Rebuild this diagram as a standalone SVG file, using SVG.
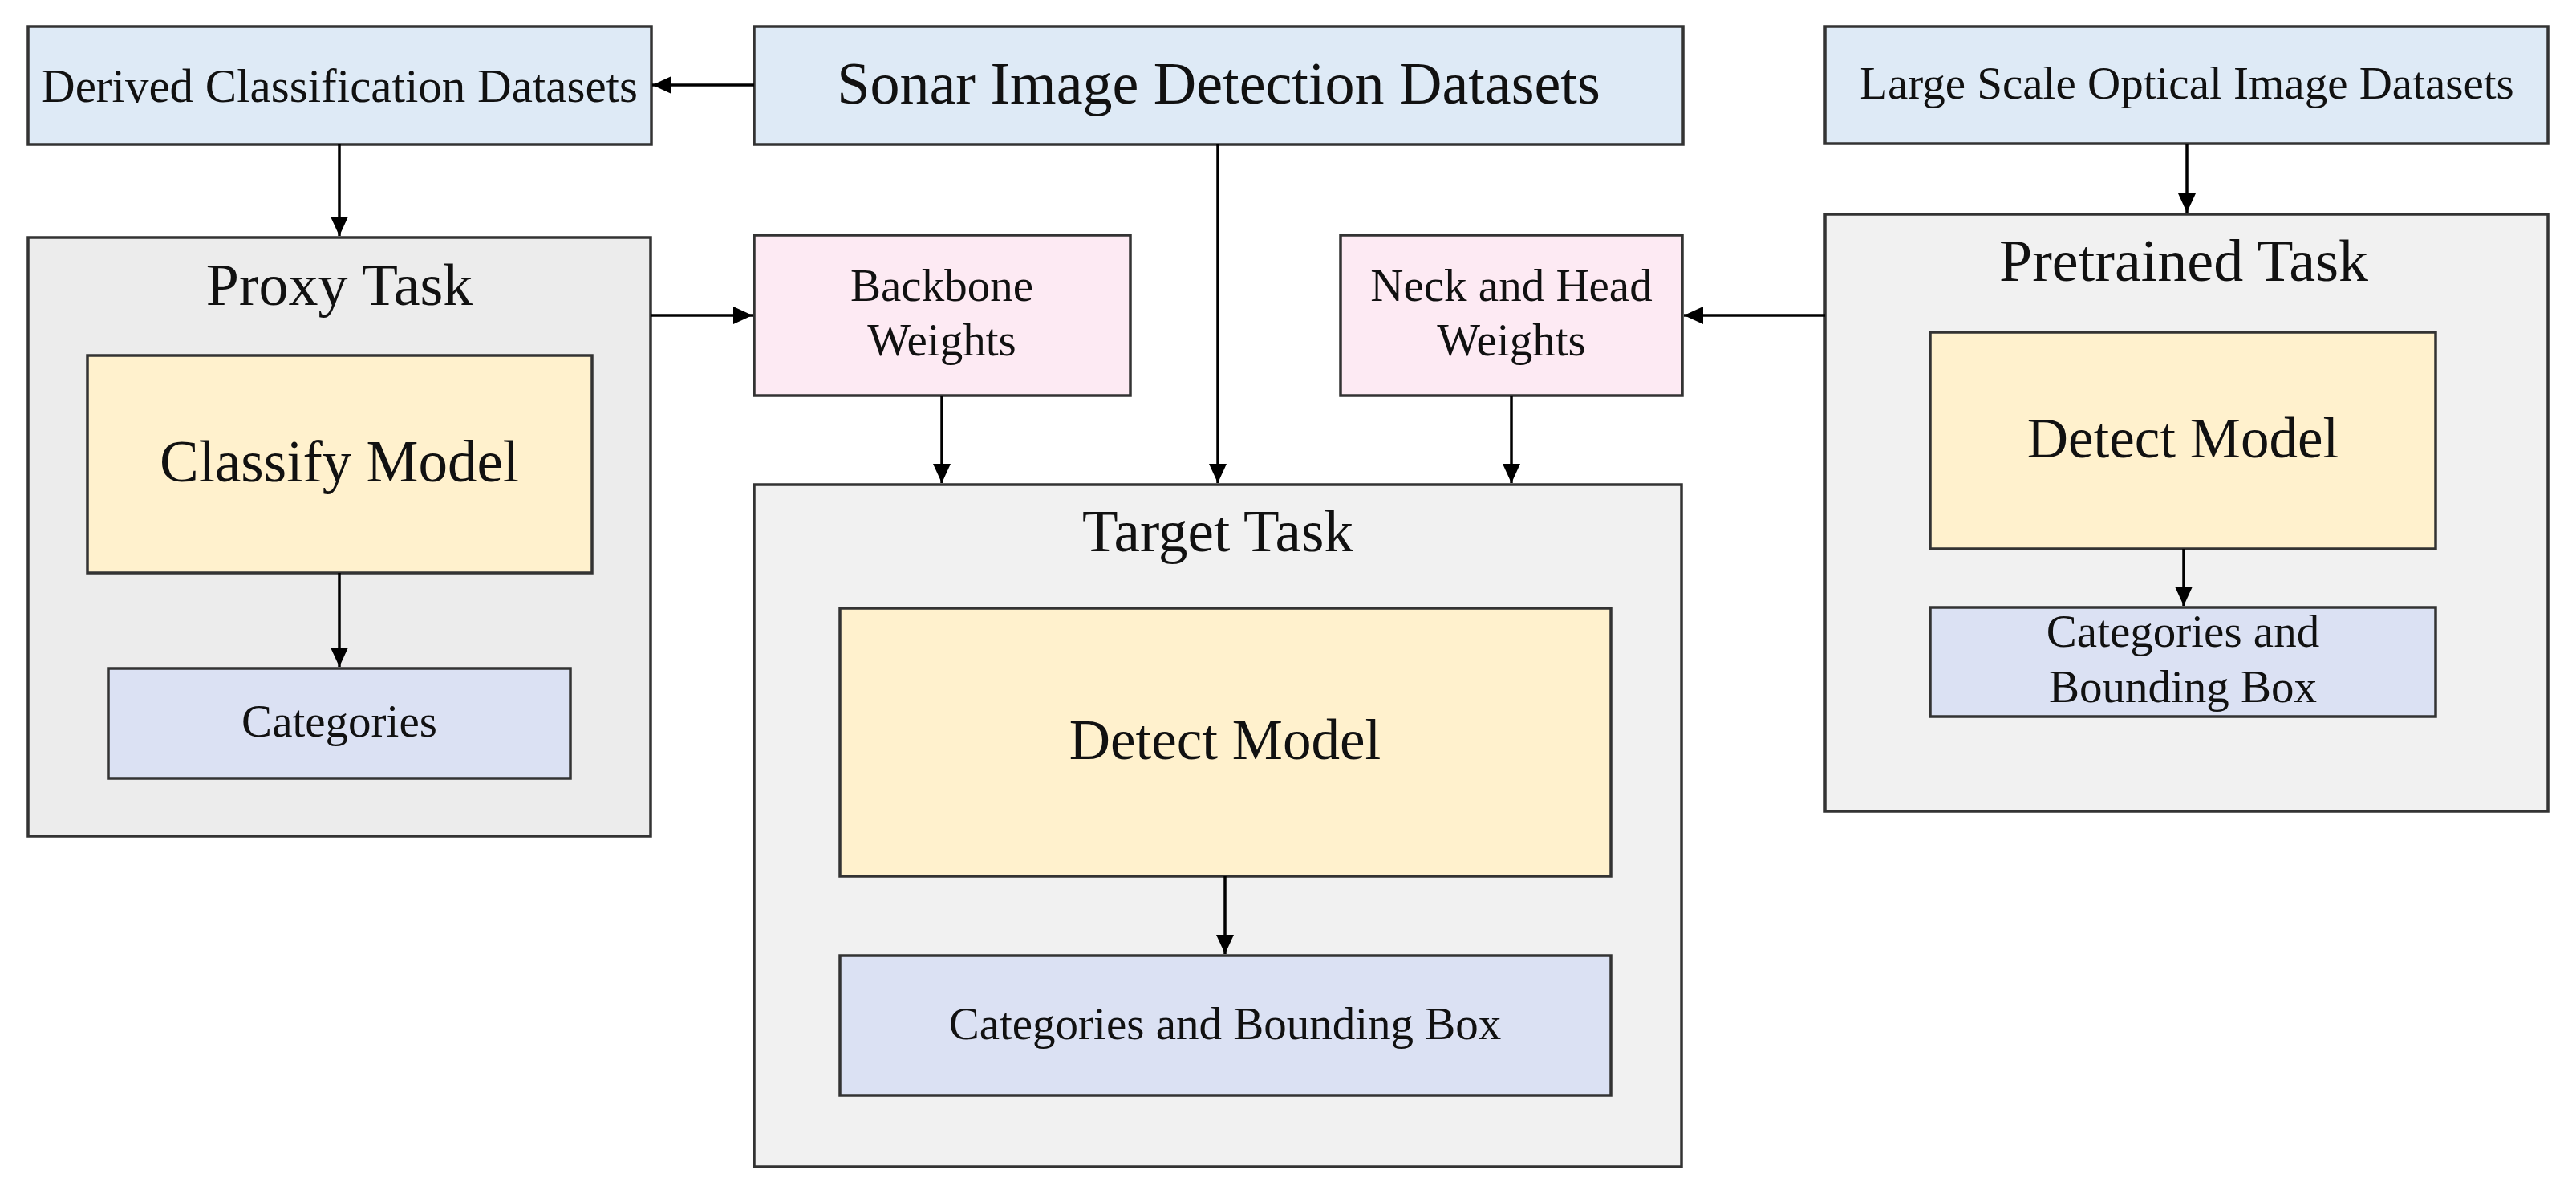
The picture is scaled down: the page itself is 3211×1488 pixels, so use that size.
<svg xmlns="http://www.w3.org/2000/svg" width="3211" height="1488" viewBox="0 0 3211 1488">
<style>
rect{stroke:#333;stroke-width:3.5}
.ds{fill:#deeaf6}
.wt{fill:#fdeaf3}
.md{fill:#fff1cd}
.out{fill:#dbe1f3}
.task{fill:#f1f1f1}
.proxy{fill:#ececec}
text{font-family:"Liberation Serif","Times New Roman",serif;fill:#111;text-anchor:middle}
.c line,.c path{stroke:#000;stroke-width:3.5;fill:none}
</style>
<defs>
<marker id="ah" markerUnits="userSpaceOnUse" markerWidth="26" markerHeight="24" refX="24" refY="12" orient="auto">
<path d="M0,1 L24,12 L0,23 Z" fill="#000"/>
</marker>
</defs>
<rect width="3211" height="1488" fill="#fff" style="stroke:none"/>
<g id="derived"><rect class="ds" x="35" y="33" width="777" height="147"/><text x="423" y="127" font-size="59">Derived Classification Datasets</text></g>
<g id="sonar"><rect class="ds" x="940" y="33" width="1158" height="147"/><text x="1519" y="129" font-size="74">Sonar Image Detection Datasets</text></g>
<g id="large"><rect class="ds" x="2275" y="33" width="901" height="146"/><text x="2726" y="123" font-size="57">Large Scale Optical Image Datasets</text></g>
<g id="proxy"><rect class="proxy" x="35" y="296" width="776" height="746"/><text x="423" y="380" font-size="74">Proxy Task</text></g>
<g id="classify"><rect class="md" x="109" y="443" width="629" height="271"/><text x="423" y="600" font-size="73">Classify Model</text></g>
<g id="categories"><rect class="out" x="135" y="833" width="576" height="137"/><text x="423" y="918" font-size="57">Categories</text></g>
<g id="backbone"><rect class="wt" x="940" y="293" width="469" height="200"/><text x="1174" y="375" font-size="57">Backbone</text><text x="1174" y="443" font-size="57">Weights</text></g>
<g id="neckhead"><rect class="wt" x="1671" y="293" width="426" height="200"/><text x="1884" y="375" font-size="57">Neck and Head</text><text x="1884" y="443" font-size="57">Weights</text></g>
<g id="target"><rect class="task" x="940" y="604" width="1156" height="850"/><text x="1518" y="687" font-size="73">Target Task</text></g>
<g id="detect-target"><rect class="md" x="1047" y="758" width="961" height="334"/><text x="1527" y="946" font-size="71">Detect Model</text></g>
<g id="catbb-target"><rect class="out" x="1047" y="1191" width="961" height="174"/><text x="1527" y="1295" font-size="57">Categories and Bounding Box</text></g>
<g id="pretrained"><rect class="task" x="2275" y="267" width="901" height="744"/><text x="2722" y="350" font-size="74">Pretrained Task</text></g>
<g id="detect-pre"><rect class="md" x="2406" y="414" width="630" height="270"/><text x="2721" y="570" font-size="71">Detect Model</text></g>
<g id="catbb-pre"><rect class="out" x="2406" y="757" width="630" height="136"/><text x="2721" y="806" font-size="57">Categories and</text><text x="2721" y="875" font-size="57">Bounding Box</text></g>
<g id="connectors" class="c">
<line x1="940" y1="106" x2="813" y2="106" marker-end="url(#ah)"/>
<line x1="423" y1="180" x2="423" y2="294" marker-end="url(#ah)"/>
<line x1="811" y1="393" x2="938" y2="393" marker-end="url(#ah)"/>
<line x1="1174" y1="493" x2="1174" y2="602" marker-end="url(#ah)"/>
<line x1="1518" y1="180" x2="1518" y2="602" marker-end="url(#ah)"/>
<line x1="1884" y1="493" x2="1884" y2="602" marker-end="url(#ah)"/>
<line x1="2726" y1="179" x2="2726" y2="265" marker-end="url(#ah)"/>
<line x1="2275" y1="393" x2="2099" y2="393" marker-end="url(#ah)"/>
<line x1="423" y1="714" x2="423" y2="831" marker-end="url(#ah)"/>
<line x1="1527" y1="1092" x2="1527" y2="1189" marker-end="url(#ah)"/>
<line x1="2722" y1="684" x2="2722" y2="755" marker-end="url(#ah)"/>
</g>
</svg>
